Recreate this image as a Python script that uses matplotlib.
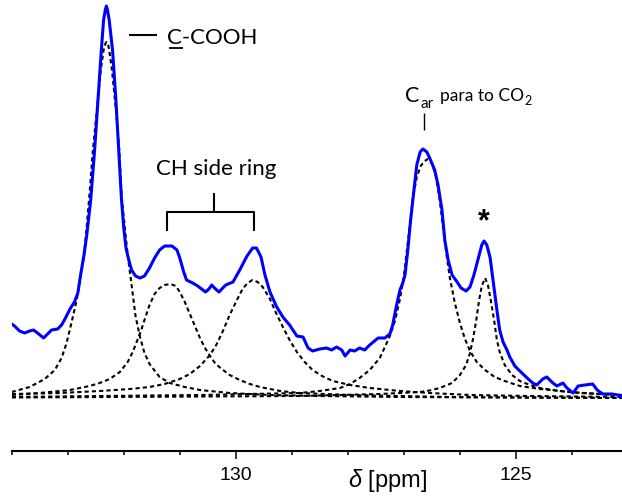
import matplotlib
matplotlib.use("Agg")
import matplotlib.pyplot as plt
from matplotlib.lines import Line2D
from matplotlib.ticker import FixedLocator, MultipleLocator

# ---------------- data ----------------
# experimental spectrum: chemical shift (ppm) and intensity (a.u.)
spec_ppm = [134.00, 133.95, 133.86, 133.77, 133.68, 133.61, 133.54, 133.43, 133.36, 133.29,
            133.18, 133.11, 133.04, 132.96, 132.88, 132.82, 132.77, 132.71, 132.66, 132.59,
            132.52, 132.46, 132.40, 132.36, 132.33, 132.31, 132.29, 132.26, 132.20, 132.14,
            132.09, 132.04, 132.00, 131.96, 131.91, 131.86, 131.79, 131.71, 131.63, 131.54,
            131.45, 131.36, 131.27, 131.14, 131.05, 131.00, 130.93, 130.88, 130.77, 130.68,
            130.61, 130.54, 130.48, 130.43, 130.38, 130.30, 130.25, 130.18, 130.05, 129.93,
            129.80, 129.70, 129.63, 129.55, 129.48, 129.39, 129.27, 129.16, 129.04, 128.91,
            128.80, 128.71, 128.63, 128.50, 128.38, 128.29, 128.20, 128.11, 128.05, 127.96,
            127.88, 127.79, 127.70, 127.61, 127.46, 127.34, 127.25, 127.20, 127.13, 127.07,
            127.02, 126.98, 126.93, 126.88, 126.82, 126.77, 126.71, 126.66, 126.59, 126.54,
            126.45, 126.39, 126.32, 126.27, 126.21, 126.14, 126.05, 125.98, 125.89, 125.82,
            125.75, 125.68, 125.61, 125.57, 125.52, 125.46, 125.41, 125.34, 125.29, 125.23,
            125.16, 125.11, 125.02, 124.93, 124.80, 124.70, 124.63, 124.52, 124.45, 124.34,
            124.27, 124.16, 124.09, 123.98, 123.89, 123.77, 123.63, 123.55, 123.45, 123.29,
            123.18, 123.11]
spec_int = [74, 72, 67, 65, 67, 68, 65, 60, 64, 68,
            69, 73, 80, 89, 96, 105, 123, 143, 163, 198,
            248, 298, 348, 378, 388, 392, 388, 378, 348, 298,
            248, 198, 170, 150, 138, 128, 122, 120, 122, 130,
            140, 148, 152, 152, 148, 140, 126, 118, 115, 112,
            109, 106, 109, 113, 110, 106, 109, 113, 116, 128,
            142, 150, 150, 141, 123, 106, 91, 81, 73, 62,
            61, 50, 47, 49, 50, 48, 51, 48, 42, 48,
            47, 50, 48, 53, 60, 60, 64, 73, 93, 108,
            115, 123, 148, 178, 208, 233, 246, 249, 246, 240,
            228, 213, 188, 158, 138, 123, 116, 110, 107, 111,
            123, 138, 153, 157, 153, 140, 118, 88, 68, 56,
            48, 41, 32, 27, 20, 15, 13, 19, 21, 15,
            12, 15, 10, 5, 12, 13, 14, 8, 4, 4,
            3, 1]

# fitted components
c1_ppm = [134.00, 133.68, 133.41, 133.23, 133.11, 133.02, 132.93, 132.84, 132.77, 132.71,
          132.67, 132.62, 132.55, 132.48, 132.41, 132.36, 132.33, 132.31, 132.28, 132.26,
          132.21, 132.14, 132.08, 132.04, 131.98, 131.93, 131.86, 131.79, 131.71, 131.63,
          131.54, 131.36, 131.18, 130.91, 130.64, 130.11, 129.39, 128.50, 127.07, 123.11]
c1_int = [6, 11, 19, 28, 40, 55, 76, 98, 121, 142,
          166, 198, 248, 288, 328, 348, 354, 356, 354, 348,
          328, 288, 248, 203, 170, 143, 113, 82, 61, 45,
          34, 21, 15, 11, 8, 5, 3, 2, 1, 0]

c2_ppm = [134.00, 133.50, 132.96, 132.61, 132.43, 132.25, 132.07, 131.93, 131.84, 131.77,
          131.70, 131.63, 131.54, 131.45, 131.36, 131.27, 131.17, 131.07, 131.00, 130.91,
          130.82, 130.73, 130.64, 130.55, 130.46, 130.36, 130.25, 130.11, 129.93, 129.75,
          129.57, 129.21, 128.86, 127.96, 126.18, 123.11]
c2_int = [3, 5, 8, 12, 15, 19, 26, 36, 46, 56,
          66, 78, 93, 104, 110, 113, 114, 112, 106, 96,
          84, 72, 60, 50, 42, 34, 29, 23, 18, 14,
          11, 7, 5, 3, 1, 0]

c3_ppm = [134.00, 133.14, 132.43, 131.89, 131.54, 131.27, 131.00, 130.82, 130.64, 130.46,
          130.34, 130.23, 130.11, 129.98, 129.88, 129.79, 129.70, 129.61, 129.52, 129.39,
          129.29, 129.16, 129.04, 128.91, 128.77, 128.63, 128.46, 128.27, 127.96, 127.61,
          127.07, 126.54, 125.82, 124.75, 123.11]
c3_int = [4, 5, 7, 9, 11, 14, 19, 24, 32, 43,
          54, 67, 83, 98, 109, 115, 118, 116, 111, 99,
          86, 71, 58, 46, 36, 28, 22, 17, 13, 10,
          7, 5, 3, 2, 1]

c4_ppm = [134.00, 132.43, 130.64, 129.75, 128.86, 128.50, 128.14, 127.96, 127.79, 127.61,
          127.43, 127.34, 127.25, 127.16, 127.07, 127.00, 126.95, 126.89, 126.84, 126.77,
          126.70, 126.63, 126.57, 126.50, 126.43, 126.36, 126.30, 126.23, 126.18, 126.09,
          126.00, 125.91, 125.82, 125.70, 125.55, 125.38, 125.20, 124.93, 124.57, 124.04,
          123.50, 123.11]
c4_int = [1, 2, 3, 4, 5, 7, 10, 14, 20, 28,
          40, 51, 62, 77, 99, 122, 146, 174, 200, 221,
          232, 237, 239, 235, 222, 198, 170, 140, 120, 95,
          75, 59, 47, 36, 28, 21, 17, 12, 9, 6,
          4, 3]

c5_ppm = [134.00, 128.86, 127.43, 127.07, 126.71, 126.54, 126.36, 126.14, 126.00, 125.89,
          125.82, 125.77, 125.71, 125.66, 125.61, 125.55, 125.50, 125.45, 125.39, 125.34,
          125.29, 125.20, 125.07, 124.93, 124.75, 124.57, 124.21, 123.86, 123.11]
c5_int = [0.5, 2, 4, 5, 6, 7.5, 10, 15, 23, 33,
          45, 58, 77, 97, 112, 120, 113, 98, 78, 58,
          46, 33, 23, 17, 13, 10, 7, 5, 3]

components = [(c1_ppm, c1_int), (c2_ppm, c2_int), (c3_ppm, c3_int),
              (c4_ppm, c4_int), (c5_ppm, c5_int)]

major_ticks = [130, 125]
major_labels = ["130", "125"]

# ---------------- figure ----------------
plt.rcParams['mathtext.fontset'] = 'custom'
plt.rcParams['mathtext.it'] = 'Liberation Sans:italic'
plt.rcParams['mathtext.rm'] = 'Liberation Sans'

W, H = 622, 499
fig = plt.figure(figsize=(W / 100, H / 100), dpi=100)
ax_left, ax_right, ax_bottom_px = 11.7, 622, 450.7
ax = fig.add_axes([ax_left / W, (H - ax_bottom_px) / H,
                   (ax_right - ax_left) / W, ax_bottom_px / H])

for xs, ys in components:
    ax.plot(xs, ys, color='black', lw=1.5, ls=(0, (2, 1.5)), zorder=2)
ax.plot(spec_ppm, spec_int, color='#0000FF', lw=2.2, zorder=3,
        solid_joinstyle='round')

ax.set_xlim(134.0, 123.107)
ax.set_ylim(-52.7, 398)

for s in ['top', 'left', 'right']:
    ax.spines[s].set_visible(False)
ax.spines['bottom'].set_linewidth(1.5)
ax.set_yticks([])
ax.xaxis.set_major_locator(FixedLocator(major_ticks))
ax.set_xticklabels(major_labels, fontfamily='Liberation Sans', fontsize=14)
ax.xaxis.set_minor_locator(MultipleLocator(1))
ax.tick_params(axis='x', which='major', direction='out', length=5.8, width=1.1,
               pad=6, color='black')
ax.tick_params(axis='x', which='minor', direction='out', length=2.6, width=1.1,
               color='black')
ax.set_xlabel(r'$\delta$ [ppm]', fontfamily='Liberation Sans', fontsize=17)
ax.xaxis.set_label_coords((388 - ax_left) / (ax_right - ax_left),
                          -(467 - ax_bottom_px) / ax_bottom_px)


# ---------------- annotations (figure pixel positions) ----------------
def fx(x):
    return x / W


def fy(y):
    return 1 - y / H


def pline(xs, ys, lw=1.5):
    fig.add_artist(Line2D([fx(v) for v in xs], [fy(v) for v in ys],
                          transform=fig.transFigure, color='black', lw=lw,
                          solid_capstyle='butt'))


renderer = fig.canvas.get_renderer()


def right_px(t):
    return t.get_window_extent(renderer).x1


lato = ['Lato', 'DejaVu Sans']
# C-COOH label
pline([129, 157], [34.7, 34.7])
fig.text(fx(167), fy(44), 'C-COOH', fontfamily=lato, fontsize=16,
         ha='left', va='baseline')
pline([169, 182.5], [47.8, 47.8], lw=1.3)

# CH side ring label and bracket
fig.text(fx(156), fy(175), 'CH side ring', fontfamily=lato, fontsize=16,
         ha='left', va='baseline')
pline([166.7, 166.7, 254.3, 254.3], [231, 211.7, 211.7, 231])
pline([214, 214], [192.7, 211.7])

# C_ar para to CO2 label
tC = fig.text(fx(405.5), fy(101.5), 'C', fontfamily=lato, fontsize=15.5,
              ha='left', va='baseline')
tar = fig.text(fx(right_px(tC) + 0.5), fy(108), 'ar', fontfamily=lato, fontsize=11,
               ha='left', va='baseline')
tpara = fig.text(fx(440), fy(101.5), 'para to CO', fontfamily=lato, fontsize=12.5,
                 ha='left', va='baseline')
fig.text(fx(right_px(tpara) + 0.3), fy(105.5), '2', fontfamily=lato, fontsize=9,
         ha='left', va='baseline')
pline([424, 424], [113, 130], lw=1.0)

# asterisk
fig.text(fx(483.5), fy(222), '*', fontfamily=['Liberation Sans'], fontsize=22,
         fontweight='bold', ha='center', va='center')

fig.savefig('out.png', dpi=100)
